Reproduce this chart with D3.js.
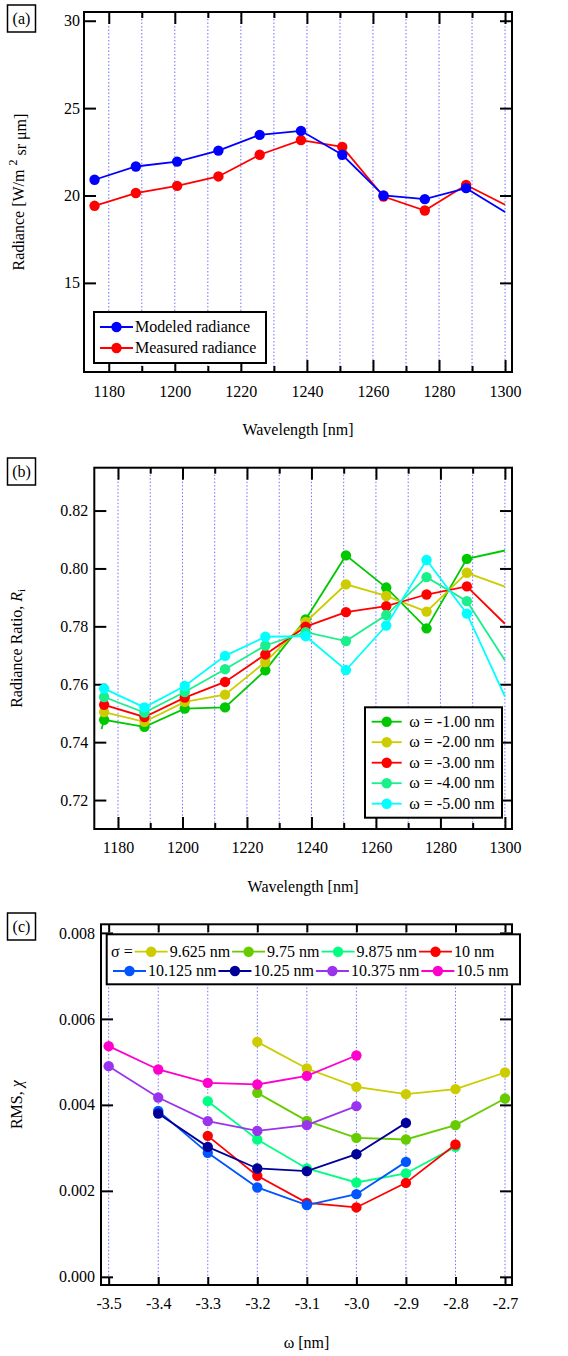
<!DOCTYPE html>
<html>
  <head>
    <meta charset="utf-8">
    <style>
      body { margin: 0; background: #fff; }
      svg, svg text { font-family: "Liberation Serif", "Times New Roman", Times, "DejaVu Serif", serif; font-size: 16px; }
      .grid { stroke: #6f6fff; stroke-width: 1; stroke-dasharray: 1.5,2; }
      .frame { fill: none; stroke: #000; stroke-width: 2; }
      .tick line { stroke: #000; stroke-width: 2; }
      .domain { display: none; }
      .series { fill: none; stroke-width: 1.8; }
    </style>
    <script src="https://cdnjs.cloudflare.com/ajax/libs/d3/7.8.5/d3.min.js"></script>
  </head>
  <body>
    <script>
      // ---- panel (a): radiance
      var wavelengths = [1175.7, 1188.2, 1200.7, 1213.2, 1225.7, 1238.2, 1250.7, 1263.2, 1275.7, 1288.2, 1300];
      var modeledRadiance = [20.9, 21.66, 21.94, 22.57, 23.47, 23.7, 22.33, 20.0, 19.79, 20.42, 19.05];
      var measuredRadiance = [19.41, 20.14, 20.55, 21.09, 22.33, 23.17, 22.78, 19.94, 19.14, 20.6, 19.47];
      var radianceTicks = [15, 20, 25, 30];

      // ---- panel (b): radiance ratio (first column is where the line enters the plot)
      var ratioWavelengths = [1174.9, 1175.7, 1188.2, 1200.7, 1213.2, 1225.7, 1238.2, 1250.7, 1263.2, 1275.7, 1288.2, 1300];
      var ratioOmega1 = [0.7445, 0.7477, 0.7453, 0.7516, 0.752, 0.7648, 0.7824, 0.8045, 0.7934, 0.7793, 0.8033, 0.8062];
      var ratioOmega2 = [null, 0.7504, 0.747, 0.7539, 0.7564, 0.7677, 0.7815, 0.7945, 0.7905, 0.7851, 0.7985, 0.7937];
      var ratioOmega3 = [null, 0.7529, 0.7487, 0.7554, 0.7608, 0.7703, 0.7799, 0.7849, 0.787, 0.791, 0.7938, 0.7809];
      var ratioOmega4 = [null, 0.7556, 0.7502, 0.7573, 0.7652, 0.7734, 0.778, 0.7749, 0.7839, 0.797, 0.7887, 0.7683];
      var ratioOmega5 = [null, 0.7585, 0.752, 0.7594, 0.7698, 0.7764, 0.7766, 0.7649, 0.7803, 0.8029, 0.7844, 0.7558];
      var ratioLabels = ["ω = -1.00 nm", "ω = -2.00 nm", "ω = -3.00 nm", "ω = -4.00 nm", "ω = -5.00 nm"];
      var ratioTicks = [0.72, 0.74, 0.76, 0.78, 0.80, 0.82];

      var wavelengthTicks = [1180, 1200, 1220, 1240, 1260, 1280, 1300];
      var wavelengthMinor = [1190, 1210, 1230, 1250, 1270, 1290];
      var wavelengthGrid = [1180, 1190, 1200, 1210, 1220, 1230, 1240, 1250, 1260, 1270, 1280, 1290, 1300];

      // ---- panel (c): RMS vs omega
      var omegaValues = [-3.5, -3.4, -3.3, -3.2, -3.1, -3.0, -2.9, -2.8, -2.7];
      var rms9625 = [null, null, null, 0.005465, 0.004846, 0.004419, 0.004249, 0.004365, 0.004753];
      var rms975 = [null, null, null, 0.004279, 0.003628, 0.003233, 0.003195, 0.003528, 0.004149];
      var rms9875 = [null, null, 0.004086, 0.003195, 0.002521, 0.002195, 0.002405, 0.003023, null];
      var rms10 = [null, null, 0.003279, 0.002349, 0.001721, 0.001614, 0.002186, 0.003079, null];
      var rms10125 = [null, 0.00386, 0.002884, 0.002079, 0.001667, 0.001923, 0.002674, null, null];
      var rms1025 = [null, 0.0038, 0.003023, 0.002521, 0.002458, 0.002853, 0.003581, null, null];
      var rms10375 = [0.0049, 0.004172, 0.003621, 0.003395, 0.003528, 0.00397, null, null, null];
      var rms105 = [0.005365, 0.004823, 0.004512, 0.004474, 0.004674, 0.005149, null, null, null];
      var sigmaLabels = ["9.625 nm", "9.75 nm", "9.875 nm", "10 nm", "10.125 nm", "10.25 nm", "10.375 nm", "10.5 nm"];
      var rmsTicks = [0, 0.002, 0.004, 0.006, 0.008];

      var svg = d3.select("body").append("svg")
        .attr("width", 568)
        .attr("height", 1356)
        .attr("font-family", "'Liberation Serif', 'Times New Roman', Times, 'DejaVu Serif', serif");

      function zip(xs, ys) {
        return xs.map(function(x, i) { return { x: x, y: ys[i] }; });
      }

      // frame, grid and four-sided ticks for one panel
      function makePanel(p) {
        var x = d3.scaleLinear().domain(p.xDomain).range([p.left, p.right]);
        var y = d3.scaleLinear().domain(p.yDomain).range([p.bottom, p.top]);
        var g = svg.append("g");

        g.selectAll(".grid").data(p.grid).enter().append("line")
          .attr("class", "grid")
          .attr("x1", d => x(d)).attr("x2", d => x(d))
          .attr("y1", p.top).attr("y2", p.bottom);

        var axes = [
          [d3.axisBottom(x).tickValues(p.xTicks).tickSize(-p.xTick).tickPadding(p.xPad).tickFormat(p.xFormat), "translate(0," + p.bottom + ")"],
          [d3.axisTop(x).tickValues(p.xTicks).tickSize(-p.xTick).tickFormat(""), "translate(0," + p.top + ")"],
          [d3.axisLeft(y).tickValues(p.yTicks).tickSize(-12).tickPadding(p.yPad).tickFormat(p.yFormat), "translate(" + p.left + ",0)"],
          [d3.axisRight(y).tickValues(p.yTicks).tickSize(-12).tickFormat(""), "translate(" + p.right + ",0)"]
        ];
        if (p.xMinor) {
          axes.push([d3.axisBottom(x).tickValues(p.xMinor).tickSize(-6).tickFormat(""), "translate(0," + p.bottom + ")"]);
          axes.push([d3.axisTop(x).tickValues(p.xMinor).tickSize(-6).tickFormat(""), "translate(0," + p.top + ")"]);
        }
        axes.forEach(function(a) {
          g.append("g").attr("transform", a[1]).call(a[0])
            .attr("font-size", 16).attr("font-family", null)
            .selectAll("text").attr("fill", "#000");
        });

        g.append("rect").attr("class", "frame")
          .attr("x", p.left).attr("y", p.top)
          .attr("width", p.right - p.left).attr("height", p.bottom - p.top);

        // panel letter
        g.append("rect").attr("x", 7.5).attr("y", p.labelY).attr("width", 28).attr("height", 27)
          .attr("fill", "none").attr("stroke", "#000").attr("stroke-width", 1.5);
        g.append("text").attr("x", 21.5).attr("y", p.labelY + 13.5).attr("dy", "0.35em")
          .attr("text-anchor", "middle").text(p.label);

        // x title
        g.append("text").attr("x", (p.left + p.right) / 2).attr("y", p.bottom + 63)
          .attr("text-anchor", "middle").text(p.xTitle);

        var yt = g.append("text")
          .attr("transform", "translate(" + p.yTitleX + "," + ((p.top + p.bottom) / 2) + ") rotate(-90)")
          .attr("text-anchor", "middle").attr("dy", "0.35em");
        p.yTitle(yt);

        return { x: x, y: y, g: g };
      }

      function drawSeries(pan, pts, color, keep) {
        var line = d3.line().defined(d => d.y != null).x(d => pan.x(d.x)).y(d => pan.y(d.y));
        pan.g.append("path").attr("class", "series").attr("stroke", color).attr("d", line(pts));
        pan.g.selectAll(null).data(pts.filter(d => d.y != null && keep(d))).enter().append("circle")
          .attr("cx", d => pan.x(d.x)).attr("cy", d => pan.y(d.y)).attr("r", 5.2)
          .attr("fill", color);
      }

      function legendSample(g, x, y, w, color) {
        g.append("line").attr("x1", x).attr("x2", x + w).attr("y1", y).attr("y2", y)
          .attr("stroke", color).attr("stroke-width", 1.8);
        g.append("circle").attr("cx", x + w / 2).attr("cy", y).attr("r", 5.2).attr("fill", color);
      }

      // ================= (a)
      var pa = makePanel({
        left: 84, right: 512, top: 12, bottom: 372,
        xDomain: [1172.5, 1302.1], yDomain: [9.9, 30.5],
        xTicks: wavelengthTicks, xMinor: wavelengthMinor, grid: wavelengthGrid, xTick: 12, xPad: 14,
        xFormat: d => String(d),
        yTicks: radianceTicks, yPad: 4, yFormat: d => String(d),
        label: "(a)", labelY: 5, xTitle: "Wavelength [nm]", yTitleX: 18,
        yTitle: function(t) {
          t.append("tspan").text("Radiance [W/m ");
          t.append("tspan").attr("dy", "-0.55em").attr("font-size", 12).text("2");
          t.append("tspan").attr("dy", "0.55em").text(" sr μm]");
        }
      });
      var onAxis = d => d.x < 1299;
      drawSeries(pa, zip(wavelengths, measuredRadiance), "#ff0000", onAxis);
      drawSeries(pa, zip(wavelengths, modeledRadiance), "#0000ff", onAxis);

      var legA = pa.g.append("g");
      legA.append("rect").attr("x", 94).attr("y", 312).attr("width", 172).attr("height", 51)
        .attr("fill", "#fff").attr("stroke", "#000").attr("stroke-width", 2);
      [["Modeled radiance", "#0000ff"], ["Measured radiance", "#ff0000"]].forEach(function(e, i) {
        var yy = 327 + i * 21;
        legendSample(legA, 100, yy, 33, e[1]);
        legA.append("text").attr("x", 135).attr("y", yy).attr("dy", "0.33em").text(e[0]);
      });

      // ================= (b)
      var pb = makePanel({
        left: 94.3, right: 512, top: 467.7, bottom: 829,
        xDomain: [1172.65, 1302.2], yDomain: [0.71, 0.8348],
        xTicks: wavelengthTicks, xMinor: wavelengthMinor, grid: wavelengthGrid, xTick: 12, xPad: 13,
        xFormat: d => String(d),
        yTicks: ratioTicks, yPad: 6, yFormat: d => d.toFixed(2),
        label: "(b)", labelY: 458, xTitle: "Wavelength [nm]", yTitleX: 16,
        yTitle: function(t) {
          t.append("tspan").text("Radiance Ratio, ");
          t.append("tspan").attr("font-style", "italic").text("R");
          t.append("tspan").attr("dy", "0.3em").attr("font-size", 11).text("i");
        }
      });
      var ratioColors = ["#00c800", "#cccc00", "#ff0000", "#19f08c", "#00ffff"];
      var ratioSeries = [ratioOmega1, ratioOmega2, ratioOmega3, ratioOmega4, ratioOmega5];
      var inRange = d => d.x > 1175 && d.x < 1299;
      ratioSeries.forEach(function(s, i) {
        drawSeries(pb, zip(ratioWavelengths, s), ratioColors[i], inRange);
      });

      var legB = pb.g.append("g");
      legB.append("rect").attr("x", 365).attr("y", 707.3).attr("width", 137).attr("height", 110.4)
        .attr("fill", "#fff").attr("stroke", "#000").attr("stroke-width", 2);
      ratioLabels.forEach(function(lab, i) {
        var yy = 721.7 + i * 20.5;
        legendSample(legB, 371.7, yy, 30, ratioColors[i]);
        legB.append("text").attr("x", 409.3).attr("y", yy).attr("dy", "0.33em").text(lab);
      });

      // ================= (c)
      var pc = makePanel({
        left: 101, right: 512, top: 924.3, bottom: 1285,
        xDomain: [-3.5155, -2.6859], yDomain: [-0.00019, 0.0082],
        xTicks: omegaValues, grid: omegaValues, xTick: 8, xPad: 13,
        xFormat: d => d.toFixed(1),
        yTicks: rmsTicks, yPad: 6, yFormat: d => d.toFixed(3),
        label: "(c)", labelY: 913, xTitle: "ω [nm]", yTitleX: 16,
        yTitle: function(t) {
          t.append("tspan").text("RMS, ");
          t.append("tspan").attr("font-style", "italic").text("χ");
        }
      });
      var sigmaColors = ["#cccc00", "#66cc00", "#00ff80", "#ff0000", "#0055ff", "#000099", "#9933ee", "#ff00cc"];
      var rmsSeries = [rms9625, rms975, rms9875, rms10, rms10125, rms1025, rms10375, rms105];
      rmsSeries.forEach(function(s, i) {
        drawSeries(pc, zip(omegaValues, s), sigmaColors[i], d => true);
      });

      var legC = pc.g.append("g");
      legC.append("rect").attr("x", 106.7).attr("y", 934.3).attr("width", 413.3).attr("height", 50)
        .attr("fill", "#fff").attr("stroke", "#000").attr("stroke-width", 2);
      var rows = [[0, 1, 2, 3], [4, 5, 6, 7]];
      rows.forEach(function(row, r) {
        var yy = 951.7 + r * 19.3;
        var cx = r === 0 ? 111 : 113;
        if (r === 0) {
          var s = legC.append("text").attr("x", cx).attr("y", yy).attr("dy", "0.33em").text("σ =");
          cx += s.node().getComputedTextLength() + 2;
        }
        row.forEach(function(k) {
          legendSample(legC, cx, yy, 33, sigmaColors[k]);
          var t = legC.append("text").attr("x", cx + 35).attr("y", yy).attr("dy", "0.33em").text(sigmaLabels[k]);
          cx += 35 + t.node().getComputedTextLength() + 2;
        });
      });
    </script>
  </body>
</html>
